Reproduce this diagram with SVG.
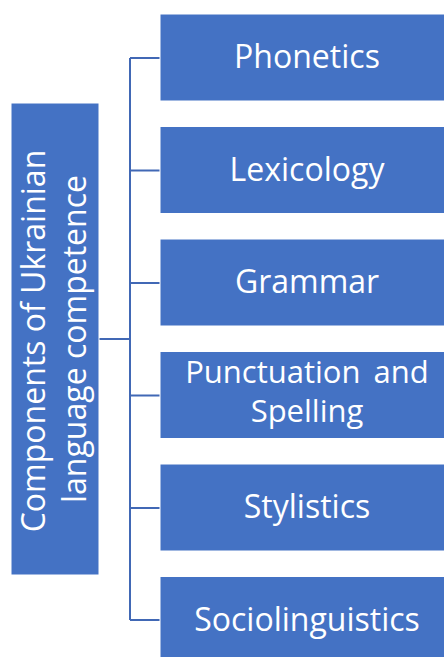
<svg xmlns="http://www.w3.org/2000/svg" width="444" height="657" viewBox="0 0 444 657">
<style>
.box{fill:#4472C4;stroke:#FFFFFF;stroke-width:1}
.lbl{fill:#FFFFFF;font-family:"Open Sans","Liberation Sans",sans-serif;font-size:32px;text-anchor:middle}
.con{fill:none;stroke:#4168B5;stroke-width:2}
</style>
<rect width="444" height="657" fill="#FFFFFF"/>
<g id="connectors">
<path class="con" d="M99 339H130M130 58V620M130 58H160M130 170.5H160M130 283H160M130 395.5H160M130 508H160M130 620H160"/>
</g>
<g id="root">
<rect class="box" x="11" y="103" width="88" height="472"/>
<g transform="translate(0,341) rotate(-90)">
<text class="lbl"><tspan x="0" y="45">Components of Ukrainian</tspan><tspan x="2" y="86">language competence</tspan></text>
</g>
</g>
<g id="phonetics">
<rect class="box" x="160" y="14" width="290" height="87"/>
<text class="lbl" x="307" y="68">Phonetics</text>
</g>
<g id="lexicology">
<rect class="box" x="160" y="126.5" width="290" height="87"/>
<text class="lbl" x="307" y="180.5">Lexicology</text>
</g>
<g id="grammar">
<rect class="box" x="160" y="239" width="290" height="87"/>
<text class="lbl" x="307" y="293">Grammar</text>
</g>
<g id="punctuation">
<rect class="box" x="160" y="351.5" width="290" height="87"/>
<text class="lbl" style="font-size:31px"><tspan x="307" y="383" word-spacing="5">Punctuation and</tspan><tspan x="307" y="422">Spelling</tspan></text>
</g>
<g id="stylistics">
<rect class="box" x="160" y="464" width="290" height="87"/>
<text class="lbl" x="307" y="518">Stylistics</text>
</g>
<g id="sociolinguistics">
<rect class="box" x="160" y="576.5" width="290" height="87"/>
<text class="lbl" x="307" y="630.5">Sociolinguistics</text>
</g>
</svg>
